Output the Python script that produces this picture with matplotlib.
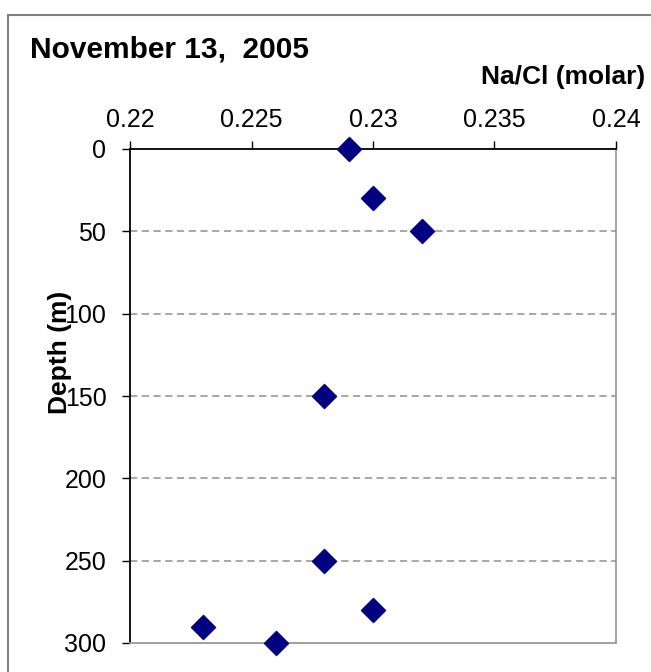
import matplotlib
matplotlib.use("Agg")
import matplotlib.pyplot as plt
from matplotlib.patches import Rectangle

plt.rcParams['font.family'] = ['Liberation Sans', 'DejaVu Sans']

# Na/Cl ratio vs depth
na_cl = [0.229, 0.230, 0.232, 0.228, 0.228, 0.230, 0.223, 0.226]
depth = [0, 30, 50, 150, 250, 280, 290, 300]
x_ticks = [0.22, 0.225, 0.23, 0.235, 0.24]
x_labels = ['0.22', '0.225', '0.23', '0.235', '0.24']
y_ticks = [0, 50, 100, 150, 200, 250, 300]

fig = plt.figure(figsize=(6.51, 6.72), dpi=100)

# outer chart frame (runs off the right/bottom edge like the source)
fig.patches.append(Rectangle((8/651, -0.05), 1.0, 1 - 15/672 + 0.05,
                             transform=fig.transFigure, fill=False,
                             edgecolor='#808080', lw=1.5))

ax = fig.add_axes([130/651, 1 - 643/672, 486/651, 494/672])
ax.scatter(na_cl, depth, marker='D', s=150, color='#000080', zorder=3,
           clip_on=False)

ax.set_xlim(0.22, 0.24)
ax.set_ylim(300, 0)
ax.xaxis.tick_top()
ax.set_xticks(x_ticks)
ax.set_xticklabels(x_labels)
ax.set_yticks(y_ticks)
ax.tick_params(axis='both', labelsize=18, direction='out', length=6,
               width=1, colors='black')
ax.tick_params(axis='x', pad=6)
ax.tick_params(axis='y', pad=11)

for y in y_ticks[1:-1]:
    ax.axhline(y, color='#a0a0a0', lw=1.3, ls=(0, (4, 2.5)), zorder=1)

ax.spines['top'].set_color('black')
ax.spines['left'].set_color('black')
ax.spines['right'].set_color('#999999')
ax.spines['bottom'].set_color('#999999')
for s in ax.spines.values():
    s.set_linewidth(1.3)

fig.text(30/651, 1 - 49/672, 'November 13,  2005', fontsize=21.5,
         fontweight='bold', va='center', ha='left')
fig.text(645/651, 1 - 77/672, 'Na/Cl (molar)', fontsize=19,
         fontweight='bold', va='center', ha='right')
fig.text(60/651, 1 - 352/672, 'Depth (m)', fontsize=19, fontweight='bold',
         rotation=90, va='center', ha='center')

fig.savefig('out.png', dpi=100)
